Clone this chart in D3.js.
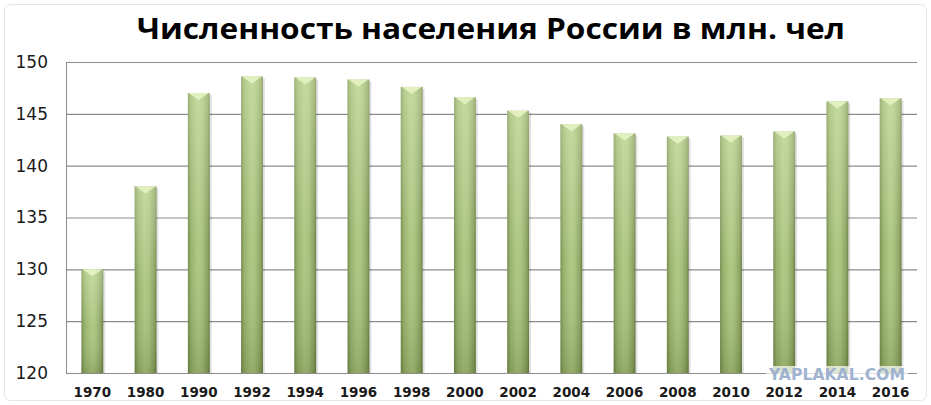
<!DOCTYPE html>
<html>
<head>
<meta charset="utf-8">
<script src="https://cdn.jsdelivr.net/npm/d3@7"></script>
<style>
  body { margin: 0; background: #fff; }
  svg { display: block; }
</style>
</head>
<body>
<div id="chart"></div>
<script>
const years = ['1970', '1980', '1990', '1992', '1994', '1996', '1998', '2000',
    '2002', '2004', '2006', '2008', '2010', '2012', '2014', '2016'];
const population = [130.0, 138.0, 147.0, 148.6, 148.5, 148.3, 147.6, 146.6,
    145.3, 144.0, 143.1, 142.8, 142.9, 143.3, 146.2, 146.5];
const yTicks = [120, 125, 130, 135, 140, 145, 150];

const width = 931, height = 405;
const margin = {top: 62, right: 14, bottom: 32, left: 66};

const svg = d3.select('#chart')
    .append('svg')
    .attr('width', width)
    .attr('height', height);

const defs = svg.append('defs');

// cylinder-ish shading across the bar
const hGrad = defs.append('linearGradient')
    .attr('id', 'barH')
    .attr('x1', 0).attr('x2', 1).attr('y1', 0).attr('y2', 0);
hGrad.selectAll('stop')
    .data([
        [0, '#6f8747'], [0.15, '#94b066'], [0.45, '#acc67f'],
        [0.65, '#a5c078'], [0.9, '#869f5b'], [1, '#63793e']
    ])
    .join('stop')
        .attr('offset', d => d[0])
        .attr('stop-color', d => d[1]);

// lighter at the top, darker toward the base
const vGrad = defs.append('linearGradient')
    .attr('id', 'barV')
    .attr('x1', 0).attr('x2', 0).attr('y1', 0).attr('y2', 1);
vGrad.selectAll('stop')
    .data([[0, '#f4ffd8', 0.35], [0.55, '#ffffff', 0.05], [1, '#34461a', 0.2]])
    .join('stop')
        .attr('offset', d => d[0])
        .attr('stop-color', d => d[1])
        .attr('stop-opacity', d => d[2]);

const x = d3.scaleBand()
    .domain(years)
    .range([margin.left, width - margin.right])
    .paddingInner(0.59)
    .paddingOuter(0.29);

const y = d3.scaleLinear()
    .domain([120, 150])
    .range([height - margin.bottom, margin.top]);

// faint frame round the picture
svg.append('rect')
    .attr('x', 4.5).attr('y', 4.5)
    .attr('width', width - 9).attr('height', height - 9)
    .attr('rx', 6)
    .attr('fill', 'none')
    .attr('stroke', '#e4e4e4');

// title
svg.append('text')
    .attr('x', 137)
    .attr('y', 39)
    .attr('textLength', 708)
    .attr('lengthAdjust', 'spacingAndGlyphs')
    .style('font', 'bold 28px "Open Sans", sans-serif')
    .attr('fill', '#000')
    .text('Численность населения России в млн. чел');

// gridlines + y labels
const yAxis = svg.append('g')
    .attr('transform', `translate(${margin.left},0)`)
    .call(d3.axisLeft(y)
        .tickValues(yTicks)
        .tickSize(-(width - margin.left - margin.right))
        .tickPadding(18)
        .tickFormat(d3.format('d')));
yAxis.select('.domain').attr('stroke', '#8c8c8c');
yAxis.selectAll('.tick line').attr('stroke', '#8c8c8c').attr('stroke-width', 1.2);
yAxis.selectAll('.tick text')
    .attr('fill', '#1a1a1a')
    .style('font', '17px "DejaVu Sans", sans-serif');

// bars
const bars = svg.append('g')
    .selectAll('g')
    .data(years.map((yr, i) => ({year: yr, value: population[i]})))
    .join('g');

// soft shadow to the right of each bar
bars.append('rect')
    .attr('x', d => x(d.year) + 2)
    .attr('y', d => y(d.value) + 2)
    .attr('width', x.bandwidth())
    .attr('height', d => y(120) - y(d.value) - 2)
    .attr('fill', '#000')
    .attr('fill-opacity', 0.12);

bars.append('rect')
    .attr('x', d => x(d.year))
    .attr('y', d => y(d.value))
    .attr('width', x.bandwidth())
    .attr('height', d => y(120) - y(d.value))
    .attr('fill', 'url(#barH)');

bars.append('rect')
    .attr('x', d => x(d.year))
    .attr('y', d => y(d.value))
    .attr('width', x.bandwidth())
    .attr('height', d => y(120) - y(d.value))
    .attr('fill', 'url(#barV)');

// light pointed cap on the top of each bar
bars.append('path')
    .attr('d', d => {
        const x0 = x(d.year), x1 = x0 + x.bandwidth(), top = y(d.value);
        return `M${x0 + 1},${top}L${x1 - 1},${top}L${x0 + x.bandwidth() / 2},${top + 7}Z`;
    })
    .attr('fill', '#e2f0c0');

// x labels
svg.append('g')
    .selectAll('text')
    .data(years)
    .join('text')
        .attr('x', d => x(d) + x.bandwidth() / 2)
        .attr('y', 397)
        .attr('text-anchor', 'middle')
        .attr('fill', '#1a1a1a')
        .style('font', 'bold 13.5px "DejaVu Sans", sans-serif')
        .text(d => d);

// site watermark
svg.append('rect')
    .attr('x', 766).attr('y', 366)
    .attr('width', 142).attr('height', 16)
    .attr('fill', '#ffffff').attr('fill-opacity', 0.7);
svg.append('text')
    .attr('x', 837)
    .attr('y', 380)
    .attr('text-anchor', 'middle')
    .attr('textLength', 136)
    .attr('lengthAdjust', 'spacingAndGlyphs')
    .attr('fill', '#9fb3cf')
    .style('font', 'bold 15px "DejaVu Sans", sans-serif')
    .text('YAPLAKAL.COM');
</script>
</body>
</html>
